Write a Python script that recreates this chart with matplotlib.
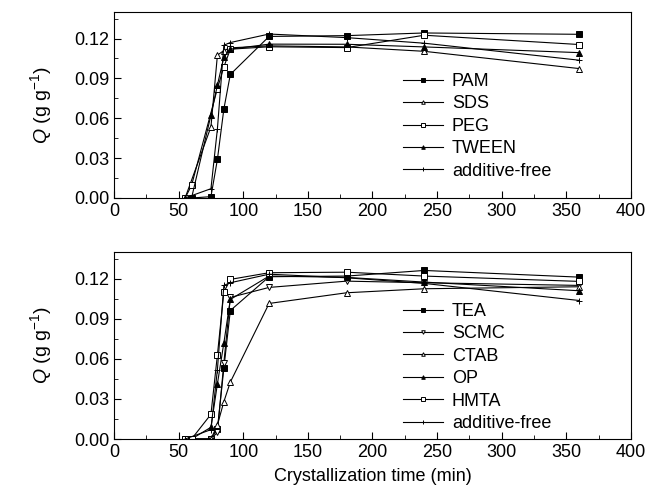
import matplotlib
matplotlib.use('Agg')
import matplotlib.pyplot as plt
from matplotlib.ticker import MultipleLocator, FormatStrFormatter

plt.rcParams['font.family'] = ['Liberation Sans', 'DejaVu Sans']
plt.rcParams['mathtext.fontset'] = 'custom'
plt.rcParams['mathtext.it'] = 'Liberation Sans:italic'
plt.rcParams['mathtext.rm'] = 'Liberation Sans'

# top panel data
t_pam = [60, 75, 80, 85, 90, 120, 180, 240, 360]
q_pam = [0.0, 0.001, 0.029, 0.067, 0.093, 0.1216, 0.1222, 0.1242, 0.1232]
t_sds = [55, 75, 80, 85, 90, 120, 180, 240, 360]
q_sds = [0.0, 0.0535, 0.1075, 0.111, 0.113, 0.1145, 0.1137, 0.1104, 0.0974]
t_peg = [55, 60, 80, 85, 90, 120, 180, 240, 360]
q_peg = [0.0, 0.0095, 0.0824, 0.0987, 0.112, 0.1138, 0.1132, 0.1225, 0.1155]
t_tween = [55, 60, 75, 80, 85, 90, 120, 180, 240, 360]
q_tween = [0.0, 0.0, 0.0623, 0.085, 0.106, 0.112, 0.1158, 0.1157, 0.1137, 0.1094]
t_free = [55, 75, 80, 85, 90, 120, 180, 240, 360]
q_free = [0.0, 0.007, 0.052, 0.115, 0.117, 0.1234, 0.1207, 0.1165, 0.1037]

# bottom panel data
t_tea = [55, 60, 75, 80, 85, 90, 120, 180, 240, 360]
q_tea = [0.0, 0.0, 0.0, 0.0075, 0.053, 0.0962, 0.1215, 0.122, 0.1262, 0.1212]
t_scmc = [55, 60, 75, 80, 85, 90, 120, 180, 240, 360]
q_scmc = [0.0, 0.0, 0.0, 0.005, 0.057, 0.106, 0.1135, 0.1182, 0.117, 0.115]
t_ctab = [55, 60, 75, 80, 85, 90, 120, 180, 240, 360]
q_ctab = [0.0, 0.0, 0.0, 0.0105, 0.028, 0.0426, 0.1015, 0.1095, 0.1125, 0.114]
t_op = [55, 60, 75, 80, 85, 90, 120, 180, 240, 360]
q_op = [0.0, 0.0, 0.0088, 0.0413, 0.072, 0.1045, 0.122, 0.121, 0.1175, 0.111]
t_hmta = [55, 60, 75, 80, 85, 90, 120, 180, 240, 360]
q_hmta = [0.0, 0.0, 0.0185, 0.0629, 0.110, 0.1195, 0.1245, 0.1249, 0.122, 0.118]

top_series = [
    ('PAM', t_pam, q_pam, 's', 'k'),
    ('SDS', t_sds, q_sds, '^', 'w'),
    ('PEG', t_peg, q_peg, 's', 'w'),
    ('TWEEN', t_tween, q_tween, '^', 'k'),
    ('additive-free', t_free, q_free, '+', 'k'),
]
bottom_series = [
    ('TEA', t_tea, q_tea, 's', 'k'),
    ('SCMC', t_scmc, q_scmc, 'v', 'w'),
    ('CTAB', t_ctab, q_ctab, '^', 'w'),
    ('OP', t_op, q_op, '^', 'k'),
    ('HMTA', t_hmta, q_hmta, 's', 'w'),
    ('additive-free', t_free, q_free, '+', 'k'),
]

fig = plt.figure(figsize=(6.59, 4.93), dpi=100)
ax1 = fig.add_axes([0.173, 0.5984, 0.7845, 0.3773])
ax2 = fig.add_axes([0.173, 0.1095, 0.7845, 0.3793])


def draw(ax, series, legend_y):
    for name, t, q, m, fc in series:
        ax.plot(t, q, color='k', lw=0.8, marker=m, markersize=4.3,
                markerfacecolor=fc, markeredgecolor='k', markeredgewidth=0.7,
                label=name)
    ax.set_xlim(0, 400)
    ax.set_ylim(0, 0.14)
    ax.xaxis.set_major_locator(MultipleLocator(50))
    ax.xaxis.set_minor_locator(MultipleLocator(25))
    ax.yaxis.set_major_locator(MultipleLocator(0.03))
    ax.yaxis.set_minor_locator(MultipleLocator(0.015))
    ax.yaxis.set_major_formatter(FormatStrFormatter('%.2f'))
    ax.tick_params(which='both', direction='in', labelsize=13)
    ax.tick_params(which='major', length=5)
    ax.tick_params(which='minor', length=3)
    ax.set_ylabel('$Q$ (g g$^{-1}$)', fontsize=14, labelpad=14)
    ax.legend(loc='upper left', bbox_to_anchor=(0.559, legend_y), frameon=False,
              fontsize=13, borderaxespad=0, borderpad=0, labelspacing=0.3,
              handlelength=2.2, handletextpad=0.5, markerscale=0.6)


draw(ax1, top_series, 0.672)
draw(ax2, bottom_series, 0.728)
ax2.set_xlabel('Crystallization time (min)', fontsize=13, labelpad=5)

fig.savefig('out.png', dpi=100)
